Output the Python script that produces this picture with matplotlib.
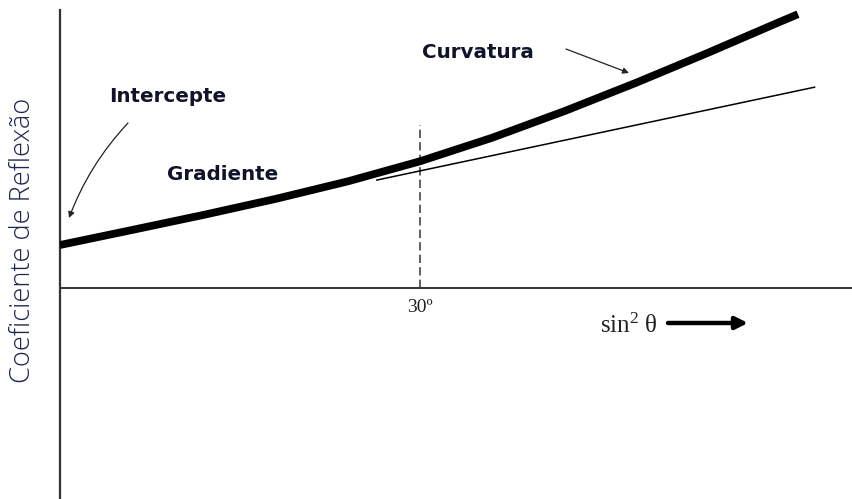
import matplotlib
matplotlib.use("Agg")
import matplotlib.pyplot as plt

plt.rcParams["mathtext.fontset"] = "custom"
plt.rcParams["mathtext.rm"] = "Liberation Serif"
plt.rcParams["mathtext.it"] = "Liberation Serif:italic"

# ---- data (sin^2 theta vs reflection coefficient) ----
sin2 = [0.0, 0.05, 0.10, 0.15, 0.20, 0.25, 0.30, 0.35, 0.40, 0.45, 0.50, 0.5125]
refl = [0.1000, 0.1349, 0.1702, 0.2074, 0.2481, 0.2947, 0.3493, 0.4109,
        0.4772, 0.5470, 0.6191, 0.6367]

tangent_x = [0.220, 0.524]
tangent_y = [0.251, 0.467]

angle_x = 0.25          # sin^2(30°)
angle_top = 0.379
angle_label = "30º"

W, H = 852, 499
fig = plt.figure(figsize=(W / 100, H / 100), dpi=100)
ax = fig.add_axes([60 / W, 0, 792 / W, 489 / H])
ax.set_xlim(0, 0.55)
ax.set_ylim(-0.4907, 0.6465)

def F(px, py):
    return (px / W, 1 - py / H)

ax.plot(sin2, refl, color="black", lw=5.6, solid_capstyle="butt",
        solid_joinstyle="round", zorder=3)
ax.plot(tangent_x, tangent_y, color="black", lw=1.1, zorder=2)
ax.plot([angle_x, angle_x], [0, angle_top], color="#444444", lw=1.2,
        dashes=(5, 2.5), zorder=1)

for s in ("top", "right"):
    ax.spines[s].set_visible(False)
ax.spines["bottom"].set_position(("data", 0))
ax.spines["left"].set_color("#333333")
ax.spines["bottom"].set_color("#333333")
ax.spines["left"].set_linewidth(1.6)
ax.spines["bottom"].set_linewidth(1.4)
ax.set_xticks([])
ax.set_yticks([])

serif = ["Liberation Serif", "DejaVu Serif"]
ax.text(angle_x, -0.045, angle_label, ha="center", va="center",
        fontsize=14, family=serif, color="#222222")

fig.text(*F(629, 326), r"$\mathrm{sin}^{2}\ \mathrm{θ}$", ha="center", va="center",
         fontsize=18, color="#222222")
ax.annotate("", xy=F(748, 323), xytext=F(668, 323),
            xycoords="figure fraction", textcoords="figure fraction",
            arrowprops=dict(arrowstyle="-|>", lw=3.2, color="black",
                            mutation_scale=18, shrinkA=0, shrinkB=0))

lab_color = "#10142a"
bold = dict(fontsize=14.3, fontweight="bold", family=["DejaVu Sans"],
            color=lab_color, ha="center", va="center")
fig.text(*F(168, 97), "Intercepte", **bold)
fig.text(*F(223, 175), "Gradiente", **bold)
fig.text(*F(478, 52), "Curvatura", **bold)

ax.annotate("", xy=F(69, 218), xytext=F(128, 123),
            xycoords="figure fraction", textcoords="figure fraction",
            arrowprops=dict(arrowstyle="-|>", lw=0.9, color="#222222",
                            mutation_scale=9, shrinkA=0, shrinkB=0,
                            connectionstyle="arc3,rad=0.1"))
ax.annotate("", xy=F(629, 73), xytext=F(566, 49),
            xycoords="figure fraction", textcoords="figure fraction",
            arrowprops=dict(arrowstyle="-|>", lw=0.9, color="#222222",
                            mutation_scale=9, shrinkA=0, shrinkB=0))

fig.text(*F(23, 240), "Coeficiente de Reflexão", rotation=90,
         ha="center", va="center", fontsize=19.5, fontweight="light",
         family=["Open Sans", "DejaVu Sans"], color="#1a2550")

fig.savefig("out.png", dpi=100)
